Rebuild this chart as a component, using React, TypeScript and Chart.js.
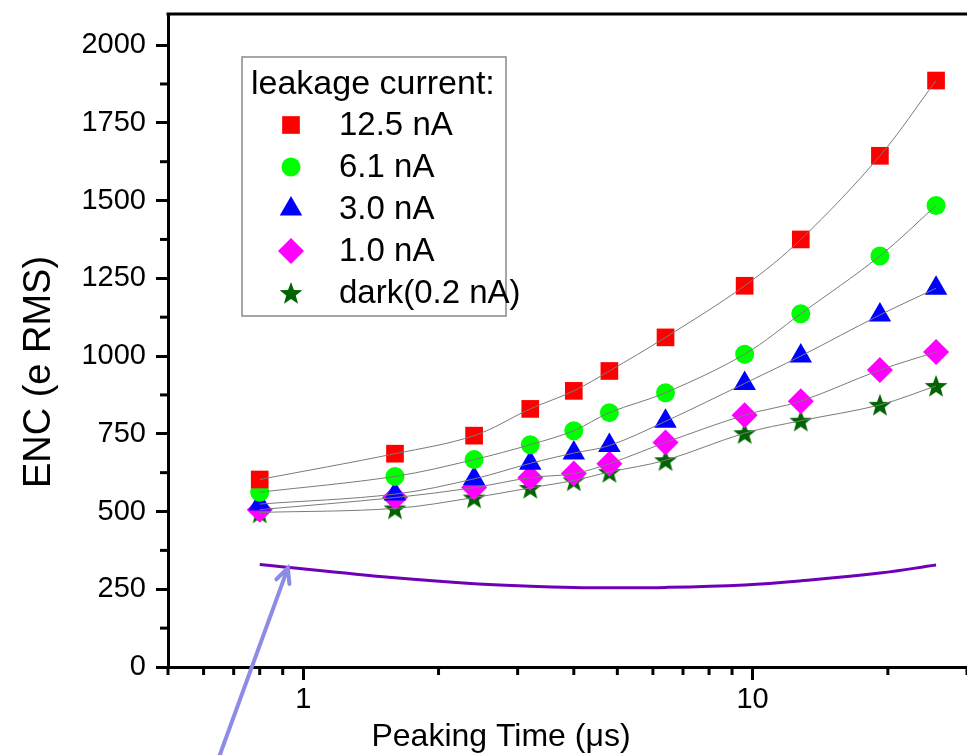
import React, { useEffect, useRef } from "react";
import { Chart, registerables } from "chart.js";
import { drawPoint } from "chart.js/helpers";

Chart.register(...registerables);

// ---------- data ----------
const peakingTimes = [0.8, 1.6, 2.4, 3.2, 4.0, 4.8, 6.4, 9.6, 12.8, 19.2, 25.6];
const enc12_5nA = [603, 686, 744, 830, 888, 952, 1060, 1226, 1375, 1644, 1886];
const enc6_1nA = [562, 613, 667, 715, 760, 818, 882, 1006, 1136, 1322, 1484];
const enc3_0nA = [524, 556, 605, 655, 688, 712, 790, 912, 1000, 1132, 1218];
const enc1_0nA = [506, 545, 577, 609, 622, 654, 722, 810, 855, 955, 1013];
const encDark = [497, 510, 545, 576, 600, 627, 665, 752, 792, 843, 904];
const encPurple = [330, 287, 268, 260, 256, 255, 256, 264, 277, 302, 328];

const seriesLabels = ["12.5 nA", "6.1 nA", "3.0 nA", "1.0 nA", "dark(0.2 nA)"];
const legendTitle = "leakage current:";
const xTitle = "Peaking Time (\u03bcs)";
const yTitle = "ENC (e RMS)";

const yMajorTicks = [0, 250, 500, 750, 1000, 1250, 1500, 1750, 2000];
const yMinorTicks = [125, 375, 625, 875, 1125, 1375, 1625, 1875];
const xMajorTicks = [1, 10];
const xMinorTicks = [0.5, 0.6, 0.7, 0.8, 0.9, 2, 3, 4, 5, 6, 7, 8, 9, 20, 30];

// arrow annotation in data units: [x, y]
const arrowTail = [0.652, -283];
const arrowTip = [0.924, 318];

const FONT = "'Liberation Sans', Arial, sans-serif";

function makeStar(outer: number, inner: number, color: string) {
  const c = document.createElement("canvas");
  const s = Math.ceil(outer * 2 + 2);
  c.width = s;
  c.height = s;
  const ctx = c.getContext("2d")!;
  ctx.fillStyle = color;
  ctx.beginPath();
  for (let i = 0; i < 10; i++) {
    const r = i % 2 === 0 ? outer : inner;
    const a = -Math.PI / 2 + (i * Math.PI) / 5;
    const px = s / 2 + r * Math.cos(a);
    const py = s / 2 + 1 + r * Math.sin(a);
    if (i === 0) ctx.moveTo(px, py);
    else ctx.lineTo(px, py);
  }
  ctx.closePath();
  ctx.fill();
  return c;
}

export default function App() {
  const ref = useRef<HTMLCanvasElement | null>(null);

  useEffect(() => {
    if (!ref.current) return;
    const star = makeStar(12, 5, "#006400");

    const toXY = (ys: number[]) => peakingTimes.map((x, i) => ({ x, y: ys[i] }));

    const markers = [
      { data: enc12_5nA, color: "#ff0000", style: "rect", radius: 12.5 },
      { data: enc6_1nA, color: "#00ff00", style: "circle", radius: 9.5 },
      { data: enc3_0nA, color: "#0000ff", style: "triangle", radius: 13 },
      { data: enc1_0nA, color: "#ff00ff", style: "rectRot", radius: 13 },
      { data: encDark, color: "#006400", style: star as any, radius: 12 },
    ];

    const datasets: any[] = [];
    markers.forEach((m, i) => {
      datasets.push({
        label: seriesLabels[i],
        data: toXY(m.data),
        showLine: false,
        pointStyle: m.style,
        pointRadius: m.radius,
        pointBackgroundColor: m.color,
        pointBorderWidth: 0,
        pointBorderColor: m.color,
        order: i + 1,
      });
      datasets.push({
        label: "fit " + seriesLabels[i],
        data: toXY(m.data),
        showLine: true,
        borderColor: "#7a7a7a",
        borderWidth: 1,
        pointRadius: 0,
        tension: 0.35,
        order: 0,
      });
    });
    datasets.push({
      label: "purple",
      data: toXY(encPurple),
      showLine: true,
      borderColor: "#6f00b8",
      borderWidth: 3,
      pointRadius: 0,
      tension: 0.4,
      order: 0,
    });

    const decor = {
      id: "decor",
      afterDraw(chart: any) {
        const ctx = chart.ctx;
        const { left, right, top, bottom } = chart.chartArea;
        const xs = chart.scales.x;
        const ys = chart.scales.y;
        ctx.save();
        // top border
        ctx.strokeStyle = "#000";
        ctx.lineWidth = 3;
        ctx.beginPath();
        ctx.moveTo(left - 1.5, top);
        ctx.lineTo(right, top);
        ctx.stroke();
        // minor ticks
        ctx.lineWidth = 3;
        yMinorTicks.forEach((v) => {
          const py = ys.getPixelForValue(v);
          ctx.beginPath();
          ctx.moveTo(left, py);
          ctx.lineTo(left - 8, py);
          ctx.stroke();
        });
        xMinorTicks.forEach((v) => {
          const px = xs.getPixelForValue(v);
          if (px > right + 1) return;
          ctx.beginPath();
          ctx.moveTo(px, bottom);
          ctx.lineTo(px, bottom + 8);
          ctx.stroke();
        });
        // titles
        ctx.fillStyle = "#000";
        ctx.font = `32px ${FONT}`;
        ctx.textAlign = "center";
        ctx.textBaseline = "middle";
        ctx.fillText(xTitle, 501, 737);
        ctx.save();
        ctx.translate(40, 372);
        ctx.rotate(-Math.PI / 2);
        ctx.font = `38px ${FONT}`;
        ctx.fillText(yTitle, 0, 0);
        ctx.restore();

        // legend
        const bx = 242, by = 57, bw = 264, bh = 259;
        ctx.fillStyle = "#fff";
        ctx.fillRect(bx, by, bw, bh);
        ctx.strokeStyle = "#8a8a8a";
        ctx.lineWidth = 1.5;
        ctx.strokeRect(bx, by, bw, bh);
        ctx.fillStyle = "#000";
        ctx.textAlign = "left";
        ctx.font = `34px ${FONT}`;
        ctx.fillText(legendTitle, 251, 85);
        const rowY = [125, 167, 209, 251, 293];
        markers.forEach((m, i) => {
          ctx.fillStyle = m.color;
          drawPoint(ctx, { pointStyle: m.style, radius: m.radius, borderWidth: 0, rotation: 0 } as any, 291, rowY[i]);
          ctx.fillStyle = "#000";
          ctx.font = `33px ${FONT}`;
          ctx.fillText(seriesLabels[i], 339, rowY[i] + 1);
        });

        // arrow
        const tx = xs.getPixelForValue(arrowTail[0]);
        const ty = ys.getPixelForValue(arrowTail[1]);
        const hx = xs.getPixelForValue(arrowTip[0]);
        const hy = ys.getPixelForValue(arrowTip[1]);
        ctx.strokeStyle = "#8c8ce6";
        ctx.lineWidth = 4;
        ctx.lineCap = "round";
        ctx.beginPath();
        ctx.moveTo(tx, ty);
        ctx.lineTo(hx, hy);
        ctx.stroke();
        const ang = Math.atan2(ty - hy, tx - hx);
        const hl = 16;
        ctx.beginPath();
        ctx.moveTo(hx + hl * Math.cos(ang + 0.45), hy + hl * Math.sin(ang + 0.45));
        ctx.lineTo(hx, hy);
        ctx.lineTo(hx + hl * Math.cos(ang - 0.45), hy + hl * Math.sin(ang - 0.45));
        ctx.stroke();
        ctx.restore();
      },
    };

    const chart = new Chart(ref.current, {
      type: "scatter",
      data: { datasets },
      options: {
        animation: false,
        responsive: false,
        maintainAspectRatio: false,
        layout: { autoPadding: false, padding: { top: 14, right: 0, left: 0, bottom: 0 } },
        plugins: { legend: { display: false }, tooltip: { enabled: false } },
        scales: {
          x: {
            type: "logarithmic",
            min: 0.5,
            max: 30,
            afterBuildTicks: (s: any) => {
              s.ticks = xMajorTicks.map((v) => ({ value: v }));
            },
            afterFit: (s: any) => {
              s.height = 88;
              s.paddingLeft = 0;
              s.paddingRight = 0;
            },
            ticks: {
              autoSkip: false,
              maxRotation: 0,
              padding: 3,
              color: "#000",
              font: { family: FONT, size: 29 },
              callback: (v: any) => String(v),
            },
            grid: { drawOnChartArea: false, drawTicks: true, tickLength: 13, tickWidth: 3, tickColor: "#000" },
            border: { display: true, width: 3, color: "#000" },
          },
          y: {
            type: "linear",
            min: 0,
            max: 2100,
            afterBuildTicks: (s: any) => {
              s.ticks = yMajorTicks.map((v) => ({ value: v }));
            },
            afterFit: (s: any) => {
              s.width = 168;
              s.paddingTop = 0;
              s.paddingBottom = 0;
            },
            ticks: {
              padding: 10,
              color: "#000",
              font: { family: FONT, size: 29 },
              callback: (v: any) => String(v),
            },
            grid: { drawOnChartArea: false, drawTicks: true, tickLength: 12, tickWidth: 3, tickColor: "#000" },
            border: { display: true, width: 3, color: "#000" },
          },
        },
      } as any,
      plugins: [decor],
    });
    return () => chart.destroy();
  }, []);

  return (
    <div style={{ position: "fixed", left: 0, top: 0, width: 967, height: 755, background: "#fff" }}>
      <canvas ref={ref} width={967} height={755} style={{ display: "block", width: 967, height: 755 }} />
    </div>
  );
}
